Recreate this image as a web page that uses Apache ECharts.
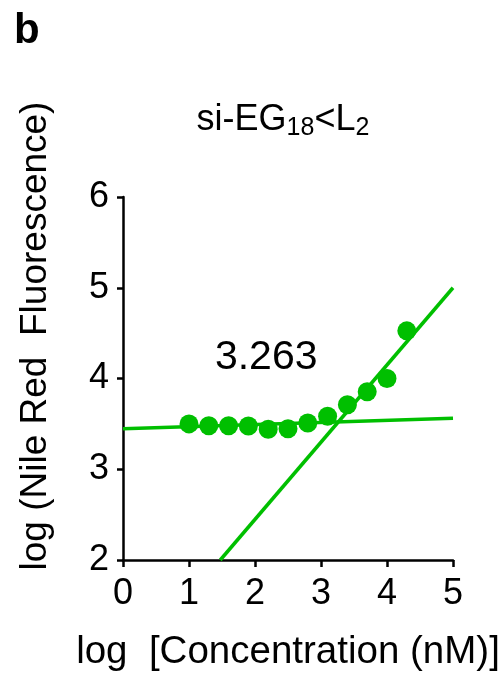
<!DOCTYPE html>
<html>
<head>
<meta charset="utf-8">
<script src="https://cdn.jsdelivr.net/npm/echarts@6/dist/echarts.min.js"></script>
<style>
  html, body { margin: 0; padding: 0; background: #fff; }
  #chart { width: 503px; height: 677px; }
</style>
</head>
<body>
<div id="chart"></div>
<script>
// log concentration (nM) and log Nile Red fluorescence readings
const logConc = [1.0, 1.3, 1.6, 1.9, 2.2, 2.5, 2.8, 3.1, 3.4, 3.7, 4.0, 4.3];
const logFluor = [3.50, 3.48, 3.48, 3.476, 3.44, 3.447, 3.51, 3.585, 3.71, 3.855, 4.0, 4.525];

// fitted baseline (below CAC) and rising segment (above CAC), as end points
const baselineX = [0, 5];
const baselineY = [3.447, 3.562];
const risingX = [1.474, 5];
const risingY = [2.0, 5.0];

// critical aggregation concentration reported on the plot
const cacValue = 3.263;
const cacLabelPos = [2.17, 4.23];

const xTicks = [0, 1, 2, 3, 4, 5];
const yTicks = [2, 3, 4, 5, 6];

const GREEN = '#00bf00';
const FONT = '"Liberation Sans", Arial, Helvetica, sans-serif';

const chart = echarts.init(document.getElementById('chart'), null, { renderer: 'canvas' });

const pairs = (xs, ys) => xs.map((x, i) => [x, ys[i]]);

chart.setOption({
  animation: false,
  backgroundColor: '#fff',
  textStyle: { fontFamily: FONT },
  title: {
    text: 'si-EG{sub|18}<L{sub|2}',
    left: 278,
    textAlign: 'center',
    top: 95,
    textStyle: {
      fontFamily: FONT,
      fontWeight: 'normal',
      fontSize: 36,
      color: '#000',
      rich: {
        sub: { fontFamily: FONT, fontSize: 25, color: '#000', verticalAlign: 'bottom', padding: [16, 0, 0, 0] }
      }
    }
  },
  grid: { left: 123, right: 50, top: 197, bottom: 111, containLabel: false },
  xAxis: {
    type: 'value',
    min: xTicks[0],
    max: xTicks[xTicks.length - 1],
    interval: 1,
    name: 'log  [Concentration (nM)]',
    nameLocation: 'middle',
    nameGap: 73,
    nameTextStyle: { fontFamily: FONT, fontSize: 38.5, color: '#000' },
    axisLine: { lineStyle: { color: '#000', width: 2.5 } },
    axisTick: { length: 7, lineStyle: { color: '#000', width: 2.5 } },
    axisLabel: { fontFamily: FONT, fontSize: 36, color: '#000', margin: 16 },
    splitLine: { show: false }
  },
  yAxis: {
    type: 'value',
    min: yTicks[0],
    max: yTicks[yTicks.length - 1],
    interval: 1,
    axisLine: { lineStyle: { color: '#000', width: 2.5 } },
    axisTick: { length: 6, lineStyle: { color: '#000', width: 2.5 } },
    axisLabel: { fontFamily: FONT, fontSize: 36, color: '#000', margin: 14 },
    splitLine: { show: false }
  },
  series: [
    {
      type: 'line',
      data: pairs(baselineX, baselineY),
      symbol: 'none',
      lineStyle: { color: GREEN, width: 3.5 },
      clip: true,
      z: 2
    },
    {
      type: 'line',
      data: pairs(risingX, risingY),
      symbol: 'none',
      lineStyle: { color: GREEN, width: 3.5 },
      clip: true,
      z: 2
    },
    {
      type: 'scatter',
      data: pairs(logConc, logFluor),
      symbol: 'circle',
      symbolSize: 19,
      itemStyle: { color: GREEN, opacity: 1 },
      z: 3
    }
  ]
});

// panel letter, y-axis title and the CAC value text
const cacPx = chart.convertToPixel({ gridIndex: 0 }, cacLabelPos);
chart.setOption({
  graphic: [
    {
      type: 'text',
      left: 14,
      top: 10,
      style: { text: 'b', fontFamily: FONT, fontWeight: 'bold', fontSize: 42, fill: '#000' }
    },
    {
      type: 'text',
      x: 36,
      y: 336,
      rotation: Math.PI / 2,
      style: {
        text: 'log (Nile Red  Fluorescence)',
        fontFamily: FONT, fontSize: 37, fill: '#000',
        align: 'center', verticalAlign: 'middle'
      }
    },
    {
      type: 'text',
      x: cacPx[0],
      y: cacPx[1],
      style: {
        text: cacValue.toFixed(3),
        fontFamily: FONT, fontSize: 41, fill: '#000',
        align: 'center', verticalAlign: 'middle'
      },
      z: 10
    }
  ]
});
</script>
</body>
</html>
